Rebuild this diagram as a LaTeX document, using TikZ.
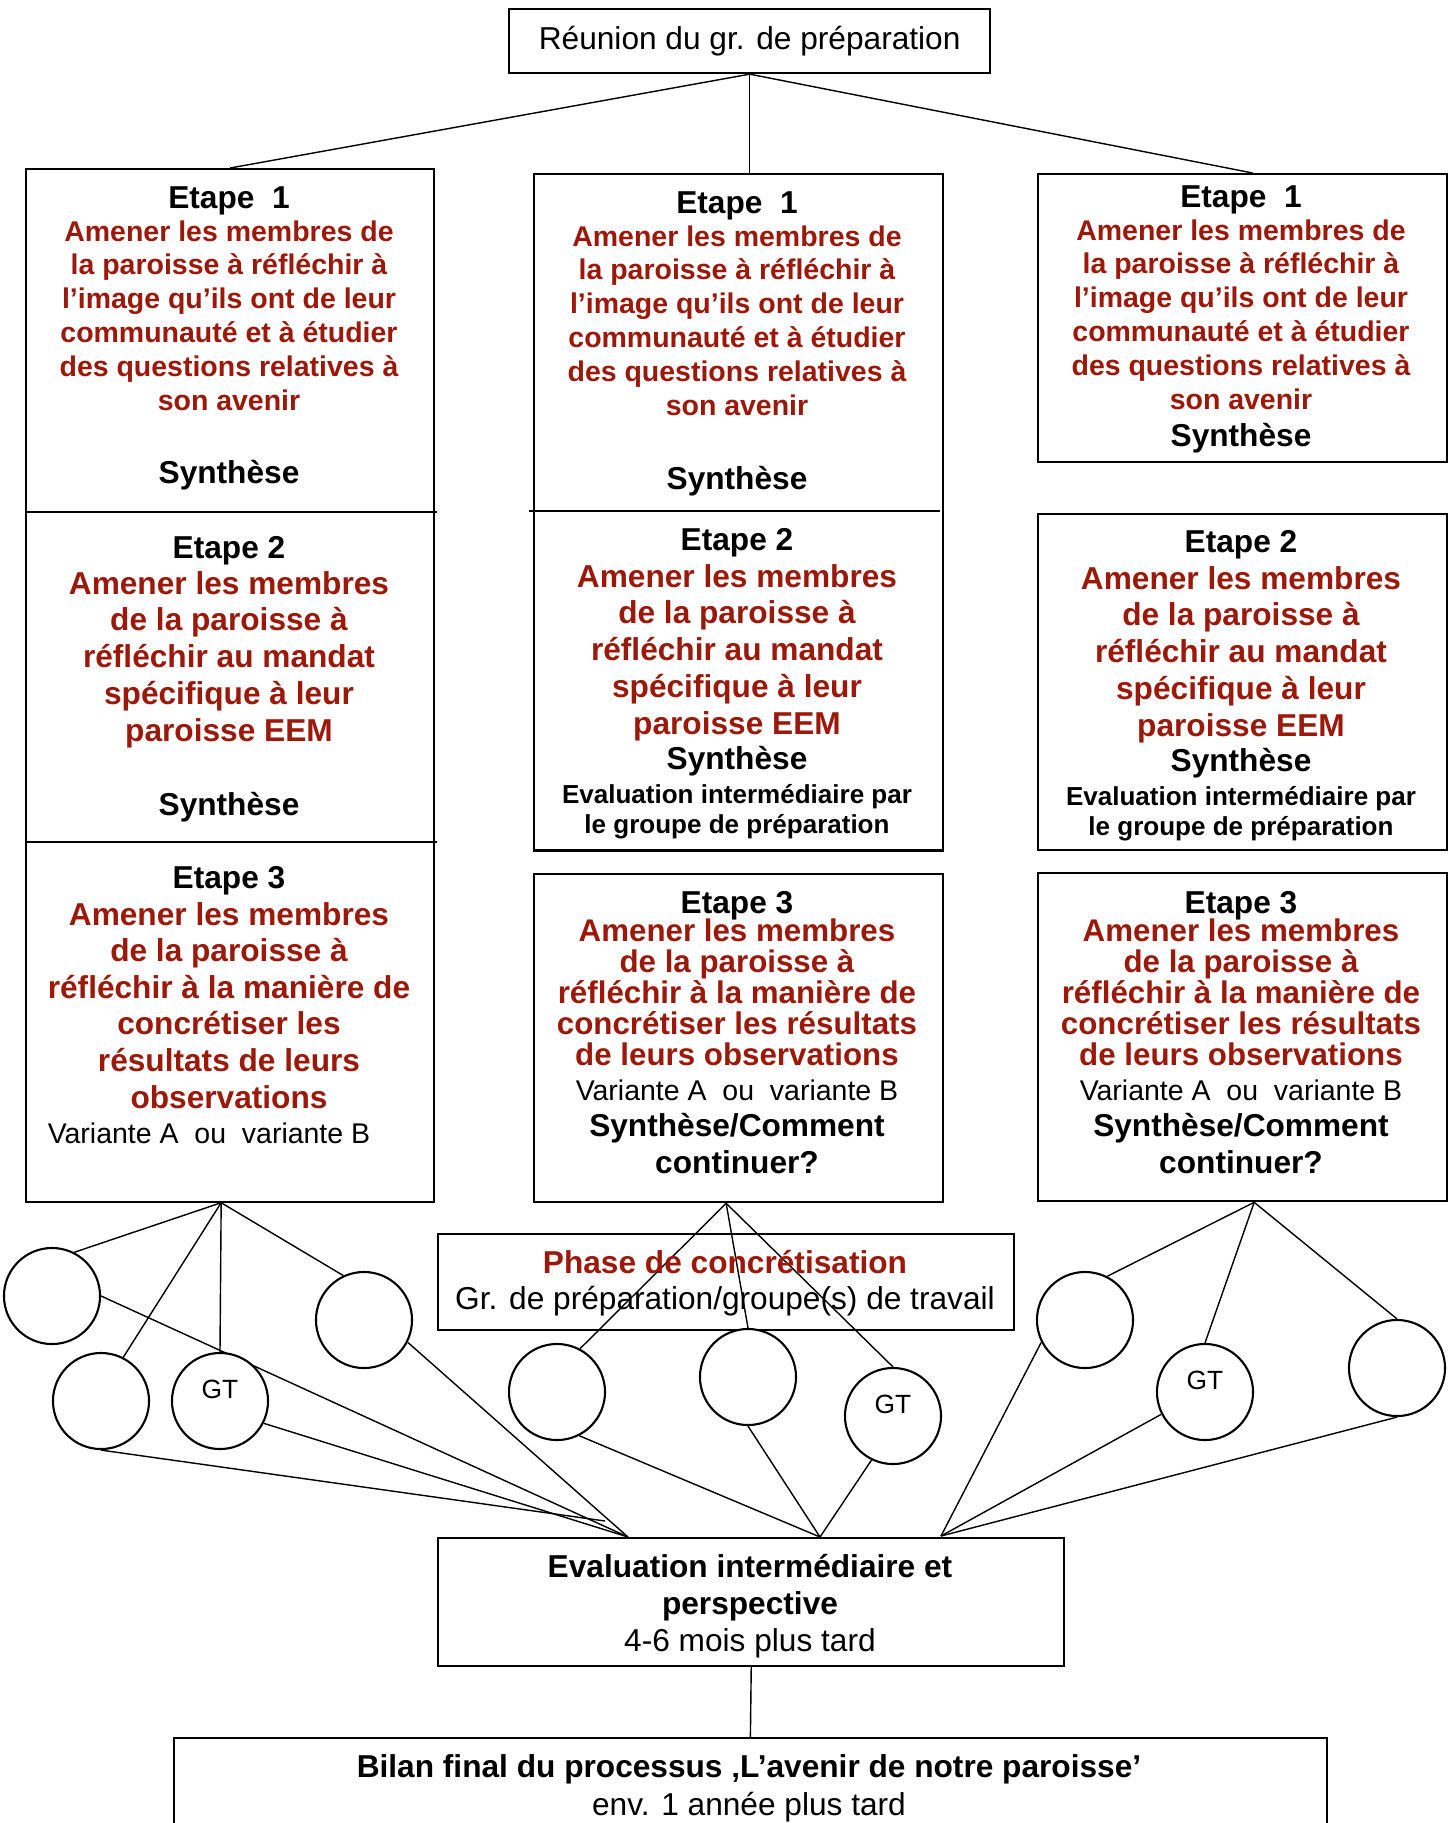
\documentclass[tikz,border=0pt]{standalone}
\usepackage{fontspec}
\setmainfont{Liberation Sans}
\usetikzlibrary{positioning}
\definecolor{etapered}{RGB}{155,25,10}
\pgfdeclarelayer{background}
\pgfsetlayers{background,main}

\newcommand{\etapeunbody}{Amener les membres de\\la paroisse à réfléchir à\\l’image qu’ils ont de leur\\communauté et à étudier\\des questions relatives à\\son avenir}
\newcommand{\etapedeuxbody}{Amener les membres\\de la paroisse à\\réfléchir au mandat\\spécifique à leur\\paroisse EEM}
\newcommand{\etapetroisbody}{Amener les membres\\de la paroisse à\\réfléchir à la manière de\\concrétiser les résultats\\de leurs observations}

\begin{document}
\begin{tikzpicture}[x=0.01cm, y=-0.01cm, line width=0.6pt,
    box/.style={draw, inner sep=0pt, anchor=north west},
    rond/.style={draw, circle, fill=white, minimum size=0.96cm, inner sep=0pt},
    txt/.style={anchor=base, align=center, inner sep=0pt},
    titre/.style={txt, font=\fontsize{9}{10.5}\selectfont\bfseries},
    corpsun/.style={txt, text=etapered, font=\fontsize{8.1}{9.6}\selectfont\bfseries},
    corpsdeux/.style={txt, text=etapered, font=\fontsize{9}{10.45}\selectfont\bfseries},
    corpstrois/.style={txt, text=etapered, font=\fontsize{8.9}{8.75}\selectfont\bfseries},
    variante/.style={txt, font=\fontsize{8.1}{9.5}\selectfont},
    evalpar/.style={txt, font=\fontsize{7.4}{8.5}\selectfont\bfseries},
    gt/.style={font=\fontsize{7.5}{9}\selectfont, inner sep=0pt}]
\useasboundingbox (0,0) rectangle (1454,1823);
\clip (0,0) rectangle (1454,1823);

% top
\node[box, minimum width=4.81cm, minimum height=0.64cm, font=\fontsize{9}{10.5}\selectfont] (reunion) at (508,8) {Réunion du gr. de préparation};

% left column (multi-line texts sit on their last baseline)
\node[box, minimum width=4.08cm, minimum height=10.32cm] (col1) at (25,168) {};
\draw (25,512) -- (437,512);
\draw (25,842) -- (437,842);
\node[titre] (tL1) at (229,208) {Etape~~1};
\node[corpsun] (bL1) at (229,410) {\etapeunbody};
\node[titre] (sL1) at (229,483) {Synthèse};
\node[titre] (tL2) at (229,558) {Etape 2};
\node[corpsdeux] (bL2) at (229,741) {\etapedeuxbody};
\node[titre] (sL2) at (229,815) {Synthèse};
\node[titre] (tL3) at (229,888) {Etape 3};
\node[corpsdeux, font=\fontsize{9}{10.4}\selectfont\bfseries] (bL3) at (229,1108) {Amener les membres\\de la paroisse à\\réfléchir à la manière de\\concrétiser les\\résultats de leurs\\observations};
\node[variante] (vL3) at (209,1143) {Variante A~~ou~~variante B};

% middle column
\node[box, minimum width=4.09cm, minimum height=6.76cm] (m12) at (533,173) {};
\draw (529,511) -- (940,511);
\node[box, minimum width=4.09cm, minimum height=3.28cm] (m3) at (533,873) {};
\node[titre] (tM1) at (737,213) {Etape~~1};
\node[corpsun] (bM1) at (737,415) {\etapeunbody};
\node[titre] (sM1) at (737,489) {Synthèse};
\node[titre] (tM2) at (737,550) {Etape 2};
\node[corpsdeux] (bM2) at (737,734) {\etapedeuxbody};
\node[titre] (sM2) at (737,769) {Synthèse};
\node[evalpar] (eM2) at (737,833) {Evaluation intermédiaire par\\le groupe de préparation};
\node[titre] (tM3) at (737,913) {Etape 3};
\node[corpstrois] (bM3) at (737,1065) {\etapetroisbody};
\node[variante] (vM3) at (737,1100) {Variante A~~ou~~variante B};
\node[titre] (cM3) at (737,1173) {Synthèse/Comment\\continuer?};

% right column
\node[box, minimum width=4.09cm, minimum height=2.88cm] (r1) at (1037,173) {};
\node[box, minimum width=4.09cm, minimum height=3.36cm] (r2) at (1037,513) {};
\node[box, minimum width=4.09cm, minimum height=3.28cm] (r3) at (1037,872) {};
\node[titre] (tR1) at (1241,207) {Etape~~1};
\node[corpsun] (bR1) at (1241,409) {\etapeunbody};
\node[titre] (sR1) at (1241,446) {Synthèse};
\node[titre] (tR2) at (1241,552) {Etape 2};
\node[corpsdeux] (bR2) at (1241,736) {\etapedeuxbody};
\node[titre] (sR2) at (1241,771) {Synthèse};
\node[evalpar] (eR2) at (1241,835) {Evaluation intermédiaire par\\le groupe de préparation};
\node[titre] (tR3) at (1241,913) {Etape 3};
\node[corpstrois] (bR3) at (1241,1065) {\etapetroisbody};
\node[variante] (vR3) at (1241,1100) {Variante A~~ou~~variante B};
\node[titre] (cR3) at (1241,1173) {Synthèse/Comment\\continuer?};

% phase, evaluation, bilan
\node[box, minimum width=5.76cm, minimum height=0.96cm] (phase) at (437,1233) {};
\node[txt, font=\fontsize{9}{10.24}\selectfont] (phaset) at (725,1309) {{\color{etapered}\bfseries Phase de concrétisation}\\Gr. de préparation/groupe(s) de travail};
\node[box, minimum width=6.26cm, minimum height=1.28cm] (eval) at (437,1537) {};
\node[txt, font=\fontsize{9}{10.5}\selectfont\bfseries] (evalt) at (750,1651) {Evaluation intermédiaire et\\perspective\\\mdseries 4-6 mois plus tard};
\node[box, minimum width=11.52cm, minimum height=1.8cm] (bilan) at (173,1737) {};
\node[txt, font=\fontsize{9}{10.8}\selectfont\bfseries] (bilant) at (749,1815) {Bilan final du processus ‚L’avenir de notre paroisse’\\\mdseries env. 1 année plus tard};

% groupes de travail
\node[rond] (L1) at (52,1296) {};
\node[rond] (L2) at (101,1401) {};
\node[rond] (L3) at (220,1401) {};
\node[rond] (L4) at (364,1320) {};
\node[rond] (M1) at (557,1392) {};
\node[rond] (M2) at (748,1377) {};
\node[rond] (M3) at (893,1416) {};
\node[rond] (R1) at (1085,1320) {};
\node[rond] (R2) at (1205,1392) {};
\node[rond] (R3) at (1397,1368) {};
\node[gt] (gtL) at ([yshift=0.12cm]L3.center) {GT};
\node[gt] (gtM) at ([yshift=0.12cm]M3.center) {GT};
\node[gt] (gtR) at ([yshift=0.12cm]R2.center) {GT};

\coordinate (evL) at (628,1537);
\coordinate (evLb) at (605,1521);
\coordinate (evM) at (820,1537);
\coordinate (evR) at (941,1536);

\begin{pgfonlayer}{background}
\draw (reunion.south) -- (col1.north);
\draw (reunion.south) -- (reunion.south |- m12.north);
\draw (reunion.south) -- ([xshift=0.1cm]r1.north);
\draw (eval.south) -- (bilan.north);
% left
\draw ([xshift=-0.09cm]col1.south) -- (L1.63);
\draw ([xshift=-0.09cm]col1.south) -- (L2.63);
\draw ([xshift=-0.09cm]col1.south) -- (L3.north);
\draw ([xshift=-0.09cm]col1.south) -- (L4.115);
\draw (L1.east) -- (evL);
\draw (L2.south) -- (evLb);
\draw (L3.-27) -- (evL);
\draw (L4.-27) -- (evL);
% middle
\draw ([xshift=-0.125cm]m3.south) -- (M1.62);
\draw ([xshift=-0.125cm]m3.south) -- (M2.north);
\draw ([xshift=-0.125cm]m3.south) -- (M3.north);
\draw (M1.-63) -- (evM);
\draw (M2.south) -- (evM);
\draw (M3.-116) -- (evM);
% right
\draw ([xshift=0.115cm]r3.south) -- (R1.63);
\draw ([xshift=0.115cm]r3.south) -- (R2.north);
\draw ([xshift=0.115cm]r3.south) -- (R3.north);
\draw (R1.207) -- (evR);
\draw (R2.207) -- (evR);
\draw (R3.south) -- (evR);
\end{pgfonlayer}
\end{tikzpicture}
\end{document}
